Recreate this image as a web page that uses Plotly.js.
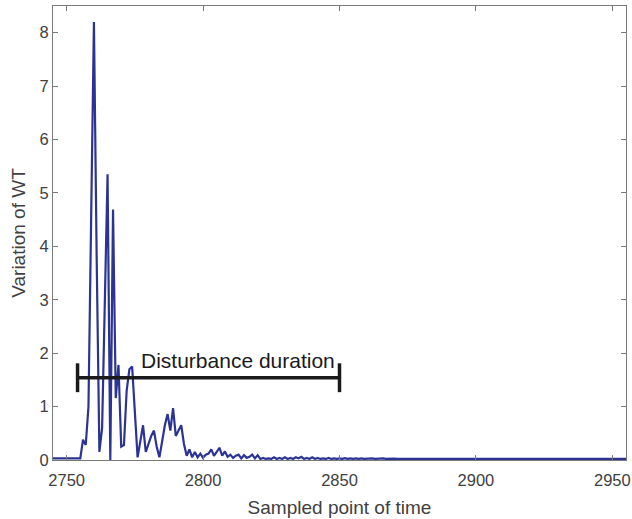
<!DOCTYPE html>
<html>
<head>
<meta charset="utf-8">
<script src="https://cdn.plot.ly/plotly-3.0.1.min.js"></script>
<style>html,body{margin:0;padding:0;background:#fff;}#chart{width:632px;height:519px;}</style>
</head>
<body>
<div id="chart"></div>
<script>
// ---- data ----
var firstSample = 2745;
var variationWT = [
  0.03,0.03,0.03,0.03,0.03,0.03,0.03,0.03,0.03,0.03,0.03,          // 2745-2755
  0.38,0.28,1.0,4.5,8.2,3.8,0.15,0.6,3.0,5.35,                      // 2756-2765
  0.0,4.69,1.16,1.78,0.25,0.28,1.3,1.7,1.75,0.8,                    // 2766-2775
  0.05,0.35,0.65,0.15,0.3,0.45,0.55,0.25,0.05,0.35,                 // 2776-2785
  0.65,0.86,0.55,0.97,0.45,0.55,0.65,0.3,0.08,0.2,                  // 2786-2795
  0.05,0.15,0.05,0.12,0.04,0.1,0.12,0.2,0.08,0.15,                  // 2796-2805
  0.23,0.08,0.16,0.06,0.1,0.04,0.08,0.1,0.03,0.09,                  // 2806-2815
  0.04,0.06,0.1,0.03,0.09,0.02,0.04,0.02,0.03,0.02,                 // 2816-2825
  0.05,0.02,0.04,0.02,0.05,0.02,0.04,0.02,0.05,0.03,                // 2826-2835
  0.06,0.02,0.04,0.02,0.05,0.02,0.04,0.02,0.03,0.02,                // 2836-2845
  0.04,0.02,0.03,0.02,0.03,0.02,0.035,0.02,0.03,0.02,               // 2846-2855
  0.03,0.02,0.03,0.02,0.025,0.02,0.03,0.02,0.025,0.02,              // 2856-2865
  0.03,0.02,0.025,0.02,0.025,0.02,0.02,0.02,0.02,0.02,              // 2866-2875
  0.02,0.02,0.02,0.02,0.02,0.02,0.02,0.02,0.02,0.02,                // 2876-2885
  0.02,0.02,0.02,0.02,0.02,0.02,0.02,0.02,0.02,0.02,                // 2886-2895
  0.02,0.02,0.02,0.02,0.02,0.02,0.02,0.02,0.02,0.02,                // 2896-2905
  0.02,0.02,0.02,0.02,0.02,0.02,0.02,0.02,0.02,0.02,                // 2906-2915
  0.02,0.02,0.02,0.02,0.02,0.02,0.02,0.02,0.02,0.02,                // 2916-2925
  0.02,0.02,0.02,0.02,0.02,0.02,0.02,0.02,0.02,0.02,                // 2926-2935
  0.02,0.02,0.02,0.02,0.02,0.02,0.02,0.02,0.02,0.02,                // 2936-2945
  0.02,0.02,0.02,0.02,0.02,0.02,0.02,0.02,0.02,0.02                 // 2946-2955
];
var xTicks = [2750, 2800, 2850, 2900, 2950];
var yTicks = [0, 1, 2, 3, 4, 5, 6, 7, 8];
var durationStart = 2754;
var durationEnd = 2850;
var durationLevel = 1.54;
var durationCap = 0.27;
var durationLabel = 'Disturbance duration';
var labelX = 2776.5;
var labelY = 1.86;

var samples = variationWT.map(function (v, i) { return firstSample + i; });

var font = 'Liberation Sans, Arial, Helvetica, sans-serif';
var axisGray = '#7a7a7a';
var textGray = '#404040';

var trace = {
  x: samples,
  y: variationWT,
  type: 'scatter',
  mode: 'lines',
  line: {color: '#2b3494', width: 2.2},
  hoverinfo: 'x+y'
};

var barStyle = {color: '#1a1a1a', width: 3.5};
var shapes = [
  {type: 'line', xref: 'x', yref: 'y', x0: durationStart, x1: durationEnd, y0: durationLevel, y1: durationLevel, line: barStyle},
  {type: 'line', xref: 'x', yref: 'y', x0: durationStart, x1: durationStart, y0: durationLevel - durationCap, y1: durationLevel + durationCap, line: barStyle},
  {type: 'line', xref: 'x', yref: 'y', x0: durationEnd, x1: durationEnd, y0: durationLevel - durationCap, y1: durationLevel + durationCap, line: barStyle}
];

var layout = {
  width: 632,
  height: 519,
  margin: {l: 53, r: 6, t: 6, b: 59, pad: 0},
  paper_bgcolor: '#ffffff',
  plot_bgcolor: '#ffffff',
  showlegend: false,
  font: {family: font, color: textGray},
  xaxis: {
    range: [2745, 2955],
    tickvals: xTicks,
    ticktext: xTicks.map(String),
    ticks: 'inside', ticklen: 5, tickwidth: 1, tickcolor: axisGray,
    ticklabelstandoff: 5,
    showline: true, linecolor: axisGray, linewidth: 1, mirror: 'ticks',
    showgrid: false, zeroline: false,
    tickfont: {family: font, size: 16.5, color: textGray},
    title: {text: 'Sampled point of time', font: {family: font, size: 19, color: textGray}, standoff: 12},
    automargin: false
  },
  yaxis: {
    range: [0, 8.5],
    tickvals: yTicks,
    ticktext: yTicks.map(String),
    ticks: 'inside', ticklen: 5, tickwidth: 1, tickcolor: axisGray,
    showline: true, linecolor: axisGray, linewidth: 1, mirror: 'ticks',
    showgrid: false, zeroline: false,
    tickfont: {family: font, size: 16.5, color: textGray},
    title: {text: 'Variation of WT', font: {family: font, size: 19, color: textGray}, standoff: 8},
    automargin: false
  },
  shapes: shapes,
  annotations: [{
    x: labelX, y: labelY, xref: 'x', yref: 'y',
    text: durationLabel, showarrow: false,
    xanchor: 'left', yanchor: 'middle',
    font: {family: font, size: 21, color: '#1a1a1a'}
  }]
};

Plotly.newPlot('chart', [trace], layout, {displayModeBar: false, staticPlot: true});
</script>
</body>
</html>
